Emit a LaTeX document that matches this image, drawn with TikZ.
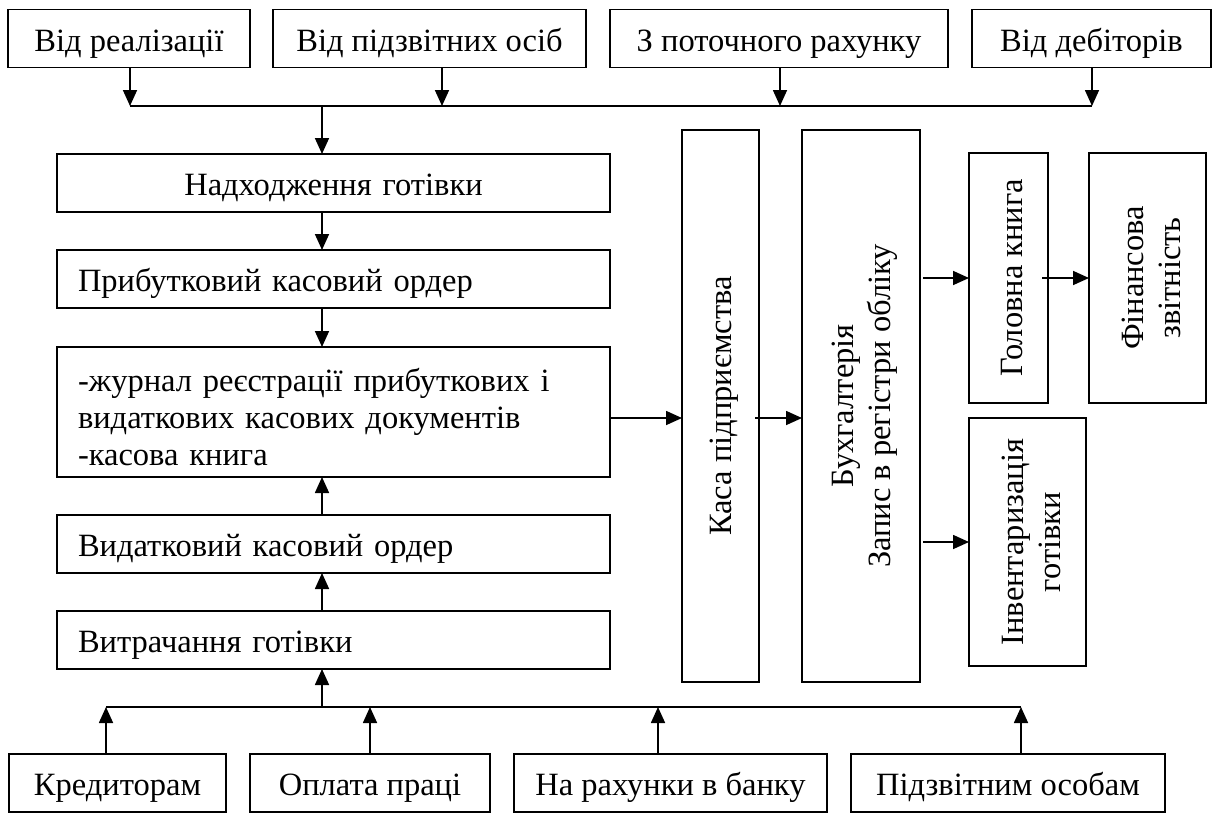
\documentclass[tikz,border=0pt]{standalone}
\usepackage{fontspec}
\setmainfont{Liberation Serif}
\usetikzlibrary{arrows.meta,positioning}

\begin{document}
\begin{tikzpicture}[
  x=1pt, y=-1pt,
  node distance=24pt,
  font=\fontsize{32.5}{37}\selectfont,
  frame/.style={rectangle, draw=black, line width=1.7pt, inner sep=0pt, outer sep=0pt, align=center},
  box/.style={frame, minimum height=58pt, text height=27pt, text depth=2pt},
  doc/.style={box, minimum width=553pt, text width=511pt, inner xsep=21pt, align=left},
  vtext/.style={xshift=4pt, rotate=90, align=center},
  arrow/.style={-{Triangle[length=16pt,width=14pt]}, line width=1.7pt},
  bus/.style={line width=1.7pt}
]
\useasboundingbox (0,0) rectangle (1216,812);

\node[box, minimum width=242pt] (from-sales) at (129,38.5) {Від реалізації};
\node[box, minimum width=313pt, right=23pt of from-sales] (from-staff) {Від підзвітних осіб};
\node[box, minimum width=338pt, right=of from-staff] (from-account) {З поточного рахунку};
\node[box, minimum width=239pt, right=of from-account] (from-debtors) {Від дебіторів};

\node[doc, align=center] (income) at (333.5,183) {Надходження готівки};
\node[doc, below=38pt of income] (receipt) {Прибутковий касовий ордер};
\node[frame, minimum width=553pt, text width=511pt, inner xsep=21pt, align=left, minimum height=130pt, below=39pt of receipt] (journal) {\rule{0pt}{33pt}-журнал реєстрації прибуткових і\\видаткових касових документів\\-касова книга};
\node[doc, below=38pt of journal] (payment) {Видатковий касовий ордер};
\node[doc, below=38pt of payment] (spending) {Витрачання готівки};

\node[frame, minimum width=77pt, minimum height=552pt] (cashdesk) at (720.5,406) {};
\node[frame, minimum width=118pt, minimum height=552pt, right=43pt of cashdesk] (accounting) {};
\node[frame, minimum width=79pt, minimum height=250pt] (ledger) at (1008.5,278) {};
\node[frame, minimum width=117pt, minimum height=250pt, right=41pt of ledger] (report) {};
\node[frame, minimum width=117pt, minimum height=248pt] (stocktake) at (1027.5,542) {};
\node[vtext] (cashdesk-text) at (cashdesk) {Каса підприємства};
\node[vtext] (accounting-text) at (accounting) {Бухгалтерія\\Запис в регістри обліку};
\node[vtext] (ledger-text) at (ledger) {Головна книга};
\node[vtext] (report-text) at (report) {Фінансова\\звітність};
\node[vtext] (stocktake-text) at (stocktake) {Інвентаризація\\готівки};

\node[box, minimum width=217pt] (to-creditors) at (117.5,783) {Кредиторам};
\node[box, minimum width=240pt, right=of to-creditors] (to-wages) {Оплата праці};
\node[box, minimum width=313pt, right=of to-wages] (to-bank) {На рахунки в банку};
\node[box, minimum width=314pt, right=of to-bank] (to-staff) {Підзвітним особам};

\coordinate (top-bus) at (322,106);
\coordinate (bottom-bus) at (322,707);
\coordinate (cash-line) at (0,418);

\foreach \src/\dx in {from-sales/1, from-staff/12.5, from-account/1, from-debtors/0.5}
  \draw[arrow] ([xshift=\dx]\src.south) -- ([xshift=\dx]\src.south |- top-bus);
\draw[bus] ([xshift=1]from-sales.south |- top-bus) -- ([xshift=0.5]from-debtors.south |- top-bus);
\draw[arrow] (top-bus) -- (top-bus |- income.north);

\draw[arrow] (income.south -| top-bus) -- (receipt.north -| top-bus);
\draw[arrow] (receipt.south -| top-bus) -- (journal.north -| top-bus);
\draw[arrow] (payment.north -| top-bus) -- (journal.south -| top-bus);
\draw[arrow] (spending.north -| top-bus) -- (payment.south -| top-bus);
\draw[arrow] (bottom-bus) -- (bottom-bus |- spending.south);

\foreach \dst/\dx in {to-creditors/-11.5, to-wages/0, to-bank/-12.5, to-staff/13}
  \draw[arrow] ([xshift=\dx]\dst.north) -- ([xshift=\dx]\dst.north |- bottom-bus);
\draw[bus] ([xshift=-11.5]to-creditors.north |- bottom-bus) -- ([xshift=13]to-staff.north |- bottom-bus);

\draw[arrow] (journal.east |- cash-line) -- (cashdesk.west |- cash-line);
\draw[arrow] ([xshift=-4]cashdesk.east |- cash-line) -- (accounting.west |- cash-line);
\draw[arrow] ([xshift=3]accounting.east |- ledger.west) -- (ledger.west);
\draw[arrow] ([xshift=-6]ledger.east) -- (report.west);
\draw[arrow] ([xshift=3]accounting.east |- stocktake.west) -- (stocktake.west);
\end{tikzpicture}
\end{document}
